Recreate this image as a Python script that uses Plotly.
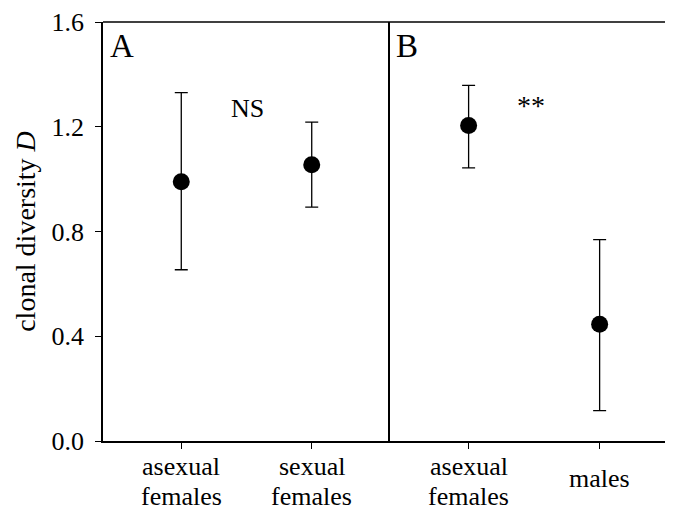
import plotly.graph_objects as go

# Panel A
cats_a = ["asexual<br>females", "sexual<br>females"]
mean_a = [0.99, 1.055]
upper_a = [1.33, 1.218]
lower_a = [0.654, 0.893]

# Panel B
cats_b = ["asexual<br>females", "males"]
mean_b = [1.205, 0.446]
upper_b = [1.358, 0.769]
lower_b = [1.043, 0.116]

y_ticks = [0.0, 0.4, 0.8, 1.2, 1.6]
y_ticktext = ["0.0", "0.4", "0.8", "1.2", "1.6"]

FONT = "Liberation Serif"

fig = go.Figure()

def add_series(means, ups, lows, xaxis, yaxis):
    xs = list(range(len(means)))
    fig.add_trace(go.Scatter(
        x=xs, y=means, mode="markers",
        marker=dict(size=17, color="black"),
        error_y=dict(type="data", symmetric=False,
                     array=[u - m for u, m in zip(ups, means)],
                     arrayminus=[m - l for m, l in zip(means, lows)],
                     thickness=1.3, width=6.5, color="black"),
        xaxis=xaxis, yaxis=yaxis, showlegend=False, hoverinfo="skip"))

add_series(mean_a, upper_a, lower_a, "x", "y")
add_series(mean_b, upper_b, lower_b, "x2", "y2")

# page has an 8px body margin; compensate in figure size/margins
W, H = 665, 502
L, T, B = 95, 14, 69
split = (390 - 103) / (W - L)

common_x = dict(showline=True, linecolor="black", linewidth=1.5, mirror=False,
                ticks="outside", ticklen=6, tickcolor="black", tickwidth=1.3,
                showgrid=False, zeroline=False, showticklabels=False,
                tickvals=[0, 1])

fig.update_layout(
    width=W, height=H,
    margin=dict(l=L, r=0, t=T, b=B, autoexpand=False),
    paper_bgcolor="white", plot_bgcolor="white",
    font=dict(family=FONT, color="black"),
    xaxis=dict(domain=[0, split], range=[-0.6, 1.6], **common_x),
    xaxis2=dict(domain=[split, 1], range=[-0.6, 1.56], anchor="y2", **common_x),
    yaxis=dict(range=[0, 1.6], tickvals=y_ticks, ticktext=y_ticktext,
               showline=True, linecolor="black", linewidth=1.5,
               ticks="outside", ticklen=6, tickcolor="black", tickwidth=1.3,
               showgrid=False, zeroline=False,
               tickfont=dict(family=FONT, size=26, color="black"),
               ticklabelstandoff=6,
               title=dict(text="clonal diversity <i>D</i>", font=dict(family=FONT, size=28, color="black"),
                          standoff=8)),
    yaxis2=dict(range=[0, 1.6], anchor="x2", showline=True, linecolor="black", linewidth=1.5,
                showticklabels=False, ticks="", showgrid=False, zeroline=False),
)

# top border line
fig.add_shape(type="line", xref="paper", yref="paper", x0=0, x1=1, y0=1, y1=1,
              line=dict(color="black", width=1.5))

# category labels (tight line spacing like the reference)
def add_cat_labels(cats, xref):
    for i, c in enumerate(cats):
        lines = c.split("<br>")
        if len(lines) == 1:
            shifts = [-37]
        else:
            shifts = [-25, -55]
        for ln, s in zip(lines, shifts):
            fig.add_annotation(text=ln, xref=xref, yref="paper", x=i, y=0,
                               xanchor="center", yanchor="middle", yshift=s,
                               showarrow=False, font=dict(family=FONT, size=26, color="black"))

add_cat_labels(cats_a, "x")
add_cat_labels(cats_b, "x2")

fig.add_annotation(text="A", xref="x domain", yref="y domain", x=0.066, y=0.943,
                   xanchor="center", yanchor="middle",
                   showarrow=False, font=dict(family=FONT, size=33, color="black"))
fig.add_annotation(text="B", xref="x2 domain", yref="y2 domain", x=0.06, y=0.943,
                   xanchor="center", yanchor="middle",
                   showarrow=False, font=dict(family=FONT, size=33, color="black"))
fig.add_annotation(text="NS", xref="x", yref="y", x=0.511, y=1.271,
                   xanchor="center", yanchor="middle",
                   showarrow=False, font=dict(family=FONT, size=26, color="black"))
fig.add_annotation(text="**", xref="x2", yref="y2", x=0.476, y=1.28,
                   xanchor="center", yanchor="middle",
                   showarrow=False, font=dict(family=FONT, size=28, color="black"))

fig.write_html("out.html")
